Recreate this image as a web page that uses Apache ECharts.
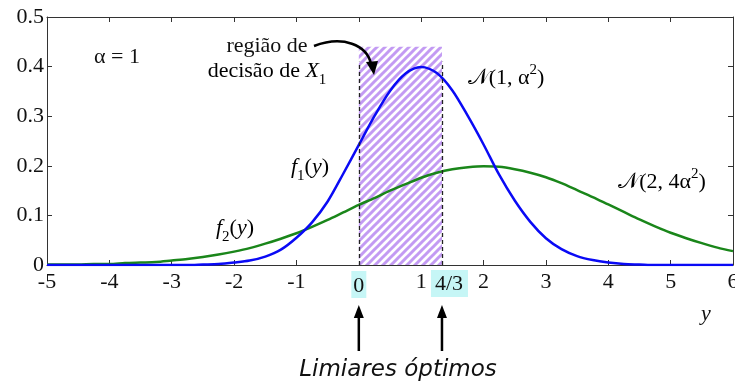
<!DOCTYPE html>
<html><head><meta charset="utf-8">
<script src="https://cdn.jsdelivr.net/npm/echarts@6/dist/echarts.min.js"></script>
<style>html,body{margin:0;padding:0;background:#fff}#c{width:735px;height:385px}</style>
</head><body><div id="c"></div>
<script>
const xValues = [-5,-4.75,-4.5,-4.25,-4,-3.75,-3.5,-3.25,-3,-2.75,
  -2.5,-2.25,-2,-1.75,-1.5,-1.25,-1,-0.75,-0.5,-0.25,
  0,0.25,0.5,0.75,1,1.25,1.5,1.75,2,2.25,
  2.5,2.75,3,3.25,3.5,3.75,4,4.25,4.5,4.75,
  5,5.25,5.5,5.75,6];
const f1Values = [0,0,0,0,0,0,0,0,0,0,
  0.001,0.002,0.005,0.009,0.017,0.031,0.055,0.086,0.128,0.184,
  0.242,0.300,0.351,0.386,0.399,0.387,0.352,0.300,0.243,0.182,
  0.130,0.087,0.054,0.032,0.018,0.010,0.005,0.002,0.001,0,
  0,0,0,0,0];
const f2Values = [0.001,0.001,0.001,0.002,0.002,0.004,0.005,0.006,0.009,0.012,
  0.016,0.021,0.027,0.034,0.043,0.053,0.064,0.077,0.091,0.106,
  0.121,0.135,0.150,0.163,0.176,0.186,0.193,0.197,0.199,0.198,
  0.193,0.186,0.177,0.165,0.151,0.137,0.122,0.107,0.092,0.078,
  0.065,0.054,0.044,0.035,0.028];
const xTicks = [-5,-4,-3,-2,-1,0,1,2,3,4,5,6];
const yTicks = [0,0.1,0.2,0.3,0.4,0.5];
const thresholds = [0, 4/3];
const thresholdLabels = ['0','4/3'];
const regionTop = 0.44;
const dashTop = 0.41;

const SERIF = "'Liberation Serif','DejaVu Serif',serif";
const FS = 22;
const chart = echarts.init(document.getElementById('c'));

const pc = document.createElement('canvas'); pc.width = 8; pc.height = 8;
const g = pc.getContext('2d');
g.fillStyle = '#ffffff'; g.fillRect(0,0,8,8);
g.strokeStyle = '#c39bf3'; g.lineWidth = 3;
g.beginPath();
g.moveTo(-1,9); g.lineTo(9,-1);
g.moveTo(-1,1); g.lineTo(1,-1);
g.moveTo(7,9); g.lineTo(9,7);
g.stroke();

const zip = (xs, ys) => xs.map((x,i)=>[x, ys[i]]);
const axisCommon = {
  axisLine: {show:true, onZero:false, lineStyle:{color:'#333', width:1}},
  axisTick: {show:true, inside:true, length:5, lineStyle:{color:'#333'}},
  splitLine: {show:false}
};

chart.setOption({
  animation: false,
  grid: {left:47, right:2, top:17, bottom:120, outerBoundsMode:'none', containLabel:false},
  xAxis: [
    Object.assign({type:'value', min:xTicks[0], max:xTicks[xTicks.length-1], interval:1,
      axisLabel:{fontFamily:SERIF, fontSize:FS, color:'#111', margin:6,
        formatter: v => v === thresholds[0] ? '{hl|' + thresholdLabels[0] + '}' : String(v),
        rich:{hl:{backgroundColor:'#c6f6f6', fontFamily:SERIF, fontSize:FS, color:'#111', padding:[4,2,1,2]}}}}, axisCommon),
    Object.assign({type:'value', position:'top', min:xTicks[0], max:xTicks[xTicks.length-1], interval:1,
      axisLabel:{show:false}}, axisCommon)
  ],
  yAxis: [
    Object.assign({type:'value', min:yTicks[0], max:yTicks[yTicks.length-1], interval:0.1,
      axisLabel:{fontFamily:SERIF, fontSize:FS, color:'#111', margin:3,
        formatter: v => v === 0 ? '0' : v.toFixed(1)}}, axisCommon),
    Object.assign({type:'value', position:'right', min:yTicks[0], max:yTicks[yTicks.length-1], interval:0.1,
      axisLabel:{show:false}}, axisCommon)
  ],
  series: [
    {type:'line', data:[], z:1, silent:true,
      markArea:{silent:true, itemStyle:{color:{image:pc, repeat:'repeat'}},
        data:[[{xAxis:thresholds[0], yAxis:0},{xAxis:thresholds[1], yAxis:regionTop}]]},
      markLine:{silent:true, symbol:'none', label:{show:false},
        lineStyle:{color:'#222', type:[4,3], width:1.3},
        data: thresholds.map(t => [{coord:[t,0]},{coord:[t,dashTop]}])}
    },
    {name:'f2', type:'line', data:zip(xValues,f2Values), showSymbol:false, smooth:0.3, z:3,
      lineStyle:{color:'#1a861a', width:2.5}},
    {name:'f1', type:'line', data:zip(xValues,f1Values), showSymbol:false, smooth:0.3, z:4,
      lineStyle:{color:'#0a0af5', width:2.5}}
  ]
});

const px = v => chart.convertToPixel({gridIndex:0},[v,0])[0];
const txt = (x,y,text,extra) => ({type:'text', x, y, style:Object.assign({text, fontFamily:SERIF, fontSize:FS, fill:'#111', align:'center', verticalAlign:'middle'}, extra||{})});
const richMath = {
  r:{fontFamily:SERIF, fontSize:FS, color:'#111'},
  i:{fontFamily:SERIF, fontSize:FS, fontStyle:'italic', color:'#111'},
  sub:{fontFamily:SERIF, fontSize:15, color:'#111', verticalAlign:'bottom', lineHeight:15, padding:[0,0,-6,0]},
  sup:{fontFamily:SERIF, fontSize:15, color:'#111', verticalAlign:'top', lineHeight:15, padding:[-4,0,0,0]}
};
const graphics = [];
graphics.push(txt(117,57,'α = 1'));
graphics.push(txt(267,46,'região de'));
graphics.push({type:'text', x:267, y:71, style:{text:'{r|decisão de }{i|X}{sub|1}', rich:richMath, align:'center', verticalAlign:'middle'}});
graphics.push({type:'text', x:506, y:78, style:{text:'{r|𝒩(1, α}{sup|2}{r|)}', rich:richMath, align:'center', verticalAlign:'middle'}});
graphics.push({type:'text', x:662, y:182, style:{text:'{r|𝒩(2, 4α}{sup|2}{r|)}', rich:richMath, align:'center', verticalAlign:'middle'}});
graphics.push({type:'text', x:310, y:167, style:{text:'{i|f}{sub|1}{r|(}{i|y}{r|)}', rich:richMath, align:'center', verticalAlign:'middle'}});
graphics.push({type:'text', x:235, y:228, style:{text:'{i|f}{sub|2}{r|(}{i|y}{r|)}', rich:richMath, align:'center', verticalAlign:'middle'}});
graphics.push(txt(706,314,'y',{fontStyle:'italic'}));
// 4/3 label
const x43 = px(thresholds[1]);
graphics.push({type:'rect', shape:{x:x43-11, y:270, width:37, height:27}, style:{fill:'#c6f6f6'}});
graphics.push(txt(x43+7,284,thresholdLabels[1],{}));
// up arrows
thresholds.forEach(t => {
  const x = px(t);
  graphics.push({type:'line', shape:{x1:x, y1:351, x2:x, y2:314}, style:{stroke:'#000', lineWidth:2.5}});
  graphics.push({type:'polygon', shape:{points:[[x-5,318],[x+5,318],[x,305]]}, style:{fill:'#000'}});
});
// curved arrow
graphics.push({type:'bezierCurve', shape:{x1:314, y1:46, cpx1:343, cpy1:35, cpx2:367, cpy2:45, x2:371, y2:64}, style:{stroke:'#000', lineWidth:2.5, fill:null}});
graphics.push({type:'polygon', shape:{points:[[366,62],[378,61],[374,75]]}, style:{fill:'#000'}});
graphics.push({type:'text', x:398, y:370, style:{text:'Limiares óptimos', fontFamily:"'DejaVu Sans',sans-serif", fontStyle:'italic', fontSize:23, fill:'#111', align:'center', verticalAlign:'middle'}});
graphics.forEach((el,i) => { el.z = 100 + i; });
chart.setOption({graphic: graphics});
</script>
</body></html>
